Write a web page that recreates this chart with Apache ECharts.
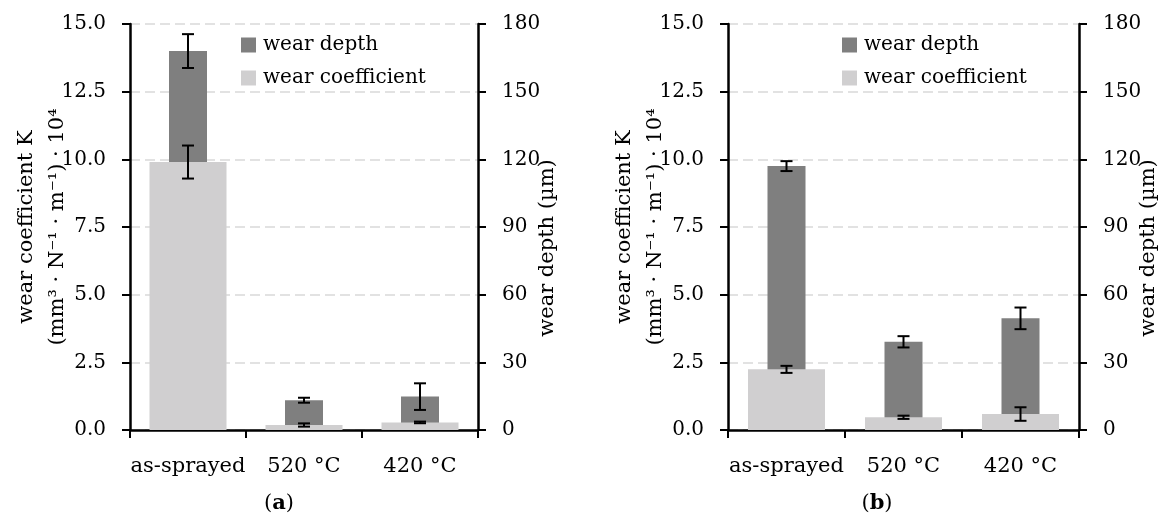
<!DOCTYPE html>
<html>
<head>
<meta charset="utf-8">
<script src="https://cdn.jsdelivr.net/npm/echarts@6/dist/echarts.min.js"></script>
<style>html,body{margin:0;padding:0;background:#fff}#c{width:1167px;height:516px}</style>
</head>
<body>
<div id="c"></div>
<script>
const categories = ['as-sprayed', '520 °C', '420 °C'];
// panel (a)
const depthA = [168, 13.2, 14.8];
const depthErrA = [7.5, 1.1, 5.9];
const coefA = [9.9, 0.185, 0.28];
const coefErrA = [0.61, 0.06, 0.03];
// panel (b)
const depthB = [117, 39.1, 49.5];
const depthErrB = [2.2, 2.5, 4.8];
const coefB = [2.24, 0.47, 0.59];
const coefErrB = [0.13, 0.06, 0.25];
const coefTicks = {min: 0, max: 15, interval: 2.5};
const depthTicks = {min: 0, max: 180, interval: 30};

const FONT = 'DejaVu Serif';
const FS = 20;
const DARK = '#7f7f7f';
const LIGHT = '#d0cfd0';

function errData(vals, errs) {
  return vals.map((v, i) => [i, v - errs[i], v + errs[i]]);
}
function renderErr(params, api) {
  const x = api.value(0);
  const top = api.coord([x, api.value(2)]);
  const bot = api.coord([x, api.value(1)]);
  const hw = 6;
  const st = {stroke: '#000', lineWidth: 2};
  return {type: 'group', children: [
    {type: 'line', shape: {x1: top[0], y1: top[1], x2: bot[0], y2: bot[1]}, style: st},
    {type: 'line', shape: {x1: top[0] - hw, y1: top[1], x2: top[0] + hw, y2: top[1]}, style: st},
    {type: 'line', shape: {x1: bot[0] - hw, y1: bot[1], x2: bot[0] + hw, y2: bot[1]}, style: st}
  ]};
}

const grids = [
  {left: 130, top: 24, width: 348, height: 406, outerBoundsMode: 'none', containLabel: false},
  {left: 728, top: 24, width: 351, height: 406, outerBoundsMode: 'none', containLabel: false}
];
const axisLineStyle = {show: true, lineStyle: {color: '#000', width: 2.5}};
const tickStyle = {show: true, length: 8, lineStyle: {color: '#000', width: 2}};
const labelStyle = {color: '#000', fontFamily: FONT, fontSize: FS};
const nameStyle = {color: '#000', fontFamily: FONT, fontSize: 21};

const xAxis = [];
const yAxis = [];
const series = [];
const panels = [
  {depth: depthA, depthErr: depthErrA, coef: coefA, coefErr: coefErrA},
  {depth: depthB, depthErr: depthErrB, coef: coefB, coefErr: coefErrB}
];
panels.forEach((p, g) => {
  xAxis.push({type: 'category', gridIndex: g, data: categories,
    axisLine: axisLineStyle, axisTick: tickStyle,
    axisLabel: {margin: 26, interval: 0, color: '#000', fontFamily: FONT, fontSize: 21}});
  xAxis.push({type: 'category', gridIndex: g, data: categories, show: false});
  yAxis.push(Object.assign({type: 'value', gridIndex: g, position: 'left',
    axisLine: axisLineStyle, axisTick: tickStyle,
    axisLabel: Object.assign({margin: 24, formatter: v => v.toFixed(1)}, labelStyle),
    splitLine: {show: true, lineStyle: {color: '#d9d9d9', width: 1.5, type: [10, 5]}},
    name: 'wear coefficient K\n(mm³ · N⁻¹ · m⁻¹) · 10⁴',
    nameLocation: 'middle', nameRotate: 90, nameGap: 57, nameMoveOverlap: false,
    nameTextStyle: Object.assign({lineHeight: 31}, nameStyle)
  }, coefTicks));
  yAxis.push(Object.assign({type: 'value', gridIndex: g, position: 'right',
    axisLine: axisLineStyle, axisTick: tickStyle,
    axisLabel: Object.assign({margin: 24}, labelStyle),
    splitLine: {show: false},
    name: 'wear depth (µm)',
    nameLocation: 'middle', nameRotate: 90, nameGap: 59, nameMoveOverlap: false,
    nameTextStyle: Object.assign({padding: [0, 42, 0, 0]}, nameStyle)
  }, depthTicks));
  const xv = g * 2, xh = g * 2 + 1, yl = g * 2, yr = g * 2 + 1;
  series.push({name: 'wear depth', type: 'bar', xAxisIndex: xh, yAxisIndex: yr,
    data: p.depth, barWidth: 38, itemStyle: {color: DARK}, z: 2});
  series.push({name: 'wear coefficient', type: 'bar', xAxisIndex: xv, yAxisIndex: yl,
    data: p.coef, barWidth: 77, itemStyle: {color: LIGHT}, z: 3});
  series.push({type: 'custom', xAxisIndex: xh, yAxisIndex: yr,
    data: errData(p.depth, p.depthErr), renderItem: renderErr, z: 5, silent: true});
  series.push({type: 'custom', xAxisIndex: xv, yAxisIndex: yl,
    data: errData(p.coef, p.coefErr), renderItem: renderErr, z: 5, silent: true});
});

const legendBase = {orient: 'vertical', itemWidth: 15, itemHeight: 15, itemGap: 13, padding: 0,
  icon: 'rect', data: ['wear depth', 'wear coefficient'],
  textStyle: {color: '#000', fontFamily: FONT, fontSize: FS, padding: [0, 0, 0, 2]}};

const chart = echarts.init(document.getElementById('c'), null, {renderer: 'canvas'});
chart.setOption({
  animation: false,
  backgroundColor: '#fff',
  grid: grids,
  xAxis: xAxis,
  yAxis: yAxis,
  legend: [
    Object.assign({left: 241, top: 35}, legendBase),
    Object.assign({left: 842, top: 35}, legendBase)
  ],
  graphic: [
    {type: 'text', x: 279, y: 504, style: {text: '({b|a})', fontFamily: FONT, fontSize: 21, fill: '#000',
      align: 'center', verticalAlign: 'middle', rich: {b: {fontFamily: FONT, fontSize: 21, fontWeight: 'bold'}}}},
    {type: 'text', x: 877, y: 504, style: {text: '({b|b})', fontFamily: FONT, fontSize: 21, fill: '#000',
      align: 'center', verticalAlign: 'middle', rich: {b: {fontFamily: FONT, fontSize: 21, fontWeight: 'bold'}}}}
  ],
  series: series
});
</script>
</body>
</html>
